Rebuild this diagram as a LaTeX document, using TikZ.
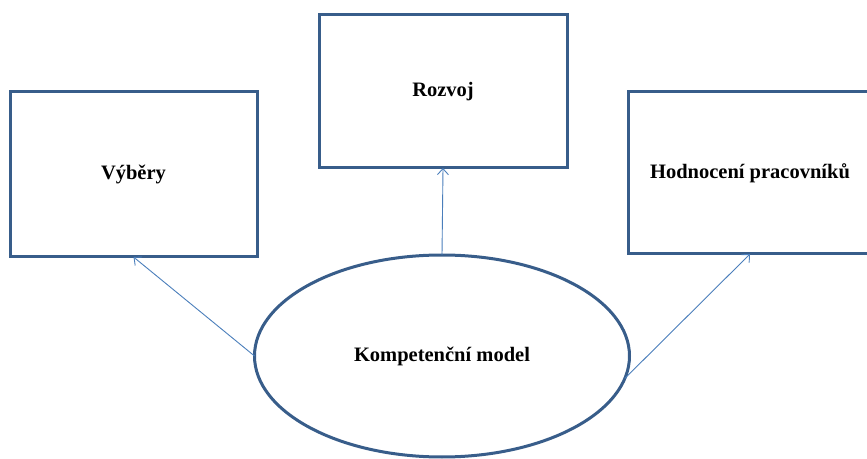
\documentclass[tikz,border=0pt]{standalone}
\usepackage{fontspec}
\setmainfont{Liberation Serif}
\usetikzlibrary{shapes.geometric,arrows.meta}
\definecolor{boxblue}{HTML}{385D8A}
\definecolor{arrowblue}{HTML}{4A7EBB}
\begin{document}
\begin{tikzpicture}[x=1pt,y=1pt,
  box/.style={draw=boxblue, line width=3pt, fill=white, inner sep=0pt, outer sep=0pt},
  lbl/.style={font=\fontsize{20.5}{24}\selectfont\bfseries},
  conn/.style={draw=arrowblue, line width=0.9pt, -{Straight Barb[length=6pt,width=11pt]}}]
\useasboundingbox (0,0) rectangle (867,458);
\node[box, lbl, minimum width=247pt, minimum height=165pt] (lbox) at (133.5,283.5) {Výběry};
\node[box, lbl, minimum width=248pt, minimum height=153pt] (mbox) at (443,366.5) {Rozvoj};
\node[box, lbl, minimum width=244pt, minimum height=162pt] (rbox) at (750,285) {Hodnocení pracovníků};
\node[box, lbl, ellipse, minimum width=375pt, minimum height=202pt] (ell) at (442,102) {Kompetenční model};
\draw[conn] (ell.west) -- (lbox.south);
\draw[conn] (ell.north) -- (mbox.south);
\draw[conn] (ell.-7) -- (rbox.south);
\end{tikzpicture}
\end{document}
